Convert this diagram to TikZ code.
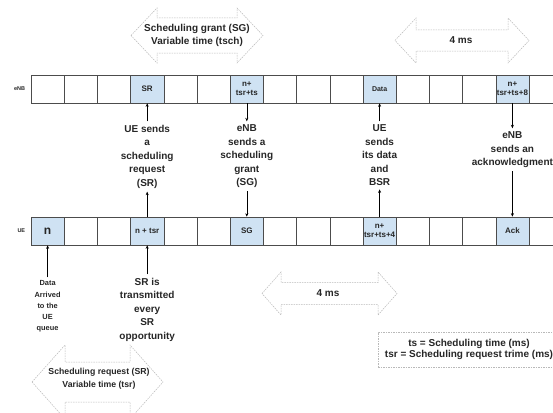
\documentclass[tikz,border=0pt]{standalone}
\usepackage{fontspec}
\setmainfont{Liberation Sans}
\usetikzlibrary{arrows.meta, positioning}
\definecolor{cellblue}{HTML}{CFE2F3}
\newcommand{\spanarrow}[6]{%
  \draw[timespan] (#1,#3) -- ({#1+#6},{#3-#4}) -- ({#1+#6},{#3-#5})
    -- ({#2-#6},{#3-#5}) -- ({#2-#6},{#3-#4}) -- (#2,#3)
    -- ({#2-#6},{#3+#4}) -- ({#2-#6},{#3+#5}) -- ({#1+#6},{#3+#5})
    -- ({#1+#6},{#3+#4}) -- cycle;}

\begin{document}
\begin{tikzpicture}[
  x=1pt, y=-1pt,
  >={Stealth[length=3.5pt, width=3pt]},
  every node/.style={text=black!85},
  cell/.style={draw=black!70, line width=0.6pt, minimum width=33.2pt, minimum height=28pt, inner sep=0pt},
  hicell/.style={cell, fill=cellblue, align=center, font=\bfseries\fontsize{8}{9}\selectfont},
  steplabel/.style={align=center, font=\bfseries\fontsize{10}{13.5}\selectfont},
  rowlabel/.style={font=\bfseries\fontsize{5.5}{6}\selectfont},
  timespan/.style={draw=gray!55, fill=white, line width=0.5pt, dash pattern=on 1.5pt off 1pt},
  link/.style={->, line width=0.6pt}
]
\useasboundingbox (0,0) rectangle (553,412);
\spanarrow{131}{263}{35.5}{27.5}{17.5}{26}
\spanarrow{395}{529}{40.5}{22.5}{10.5}{21}
\spanarrow{262}{397}{293.5}{21.5}{11}{19}
\spanarrow{32}{163}{382}{37}{20}{33}
\node[align=center, font=\bfseries\fontsize{10}{13.5}\selectfont] (grant-span) at (197,35.5) {Scheduling grant (SG)\\Variable time (tsch)};
\node[font=\bfseries\fontsize{10}{12}\selectfont] (enb-span) at (461,40.5) {4 ms};
\node[font=\bfseries\fontsize{10}{12}\selectfont] (ue-span) at (328,293.5) {4 ms};
\node[align=center, font=\bfseries\fontsize{8.7}{13}\selectfont] (request-span) at (99,378.5) {Scheduling request (SR)\\Variable time (tsr)};
\foreach \i in {0,...,15} {
  \node[cell] (enb-\i) at ({47.6+33.2*\i},89) {};
  \node[cell] (ue-\i) at ({47.6+33.2*\i},231) {};
}
\node[rowlabel, left=2pt of enb-0] (enb-label) {eNB};
\node[rowlabel, left=2pt of ue-0] (ue-label) {UE};
\node[hicell] (enb-sr) at (enb-3) {SR};
\node[hicell] (enb-grant) at (enb-6) {n+\\tsr+ts};
\node[hicell, font=\bfseries\fontsize{7}{8}\selectfont] (enb-data) at (enb-10) {Data};
\node[hicell] (enb-ack) at (enb-14) {n+\\tsr+ts+8};
\node[hicell, font=\bfseries\fontsize{12}{14}\selectfont] (ue-arrival) at (ue-0) {n};
\node[hicell] (ue-sr) at (ue-3) {n + tsr};
\node[hicell] (ue-sg) at (ue-6) {SG};
\node[hicell] (ue-data) at (ue-10) {n+\\tsr+ts+4};
\node[hicell] (ue-ack) at (ue-14) {Ack};
\node[steplabel, below=18pt of enb-sr] (sr-step) {UE sends\\a\\scheduling\\request\\(SR)};
\node[steplabel, below=18pt of enb-grant] (grant-step) {eNB\\sends a\\scheduling\\grant\\(SG)};
\node[steplabel, below=18pt of enb-data] (data-step) {UE\\sends\\its data\\and\\BSR};
\node[steplabel, below=25pt of enb-ack] (ack-step) {eNB\\sends an\\acknowledgment};
\node[align=center, font=\bfseries\fontsize{7.4}{11.2}\selectfont, below=32pt of ue-arrival] (arrival-note) {Data\\Arrived\\to the\\UE\\queue};
\node[steplabel, below=29pt of ue-sr] (sr-note) {SR is\\transmitted\\every\\SR\\opportunity};
\draw[link] (ue-sr) -- (sr-step);
\draw[link] (sr-step) -- (enb-sr);
\draw[link] (enb-grant) -- (grant-step);
\draw[link] (grant-step) -- (ue-sg);
\draw[link] (ue-data) -- (data-step);
\draw[link] (data-step) -- (enb-data);
\draw[link] (enb-ack) -- (ack-step);
\draw[link] (ack-step) -- (ue-ack);
\draw[link] (arrival-note) -- (ue-arrival);
\draw[link] (sr-note) -- (ue-sr);
\node[timespan, align=center, minimum width=182pt, minimum height=35pt, font=\bfseries\fontsize{10}{11.5}\selectfont] (legend) at (469,349.5) {ts = Scheduling time (ms)\\tsr = Scheduling request trime (ms)};
\end{tikzpicture}
\end{document}
